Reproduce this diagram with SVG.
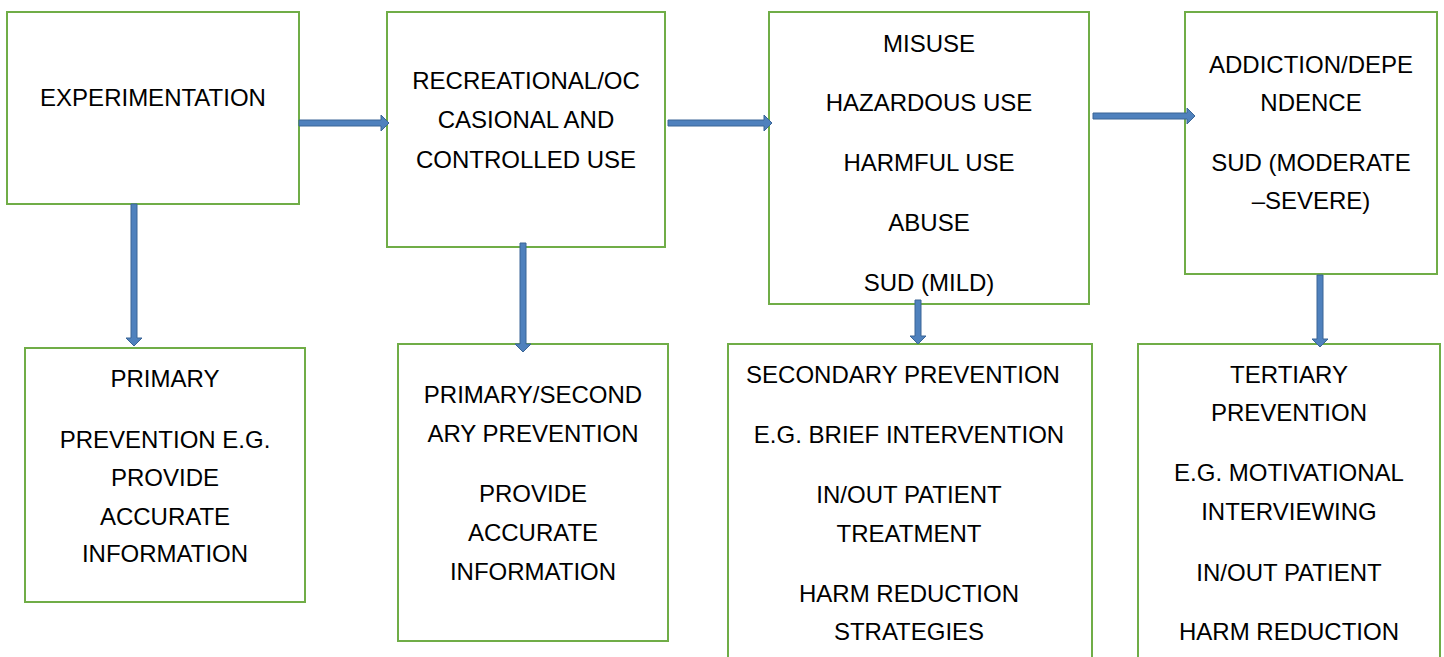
<svg xmlns="http://www.w3.org/2000/svg" width="1444" height="657" viewBox="0 0 1444 657">
<style>
.box{fill:#fff;stroke:#70ad47;stroke-width:2}
.t{font-family:"Liberation Sans","Open Sans",sans-serif;font-size:24px;fill:#000;text-anchor:middle}
.arr{fill:#4f81bd;stroke:#3a6596;stroke-width:1}
</style>
<rect width="1444" height="657" fill="#fff"/>
<g id="n1"><rect class="box" x="7" y="12" width="292" height="192"/>
<text class="t" x="153" y="106">EXPERIMENTATION</text></g>
<g id="n2"><rect class="box" x="387" y="12" width="278" height="235"/>
<text class="t" x="526" y="89">RECREATIONAL/OC</text>
<text class="t" x="526" y="128">CASIONAL AND</text>
<text class="t" x="526" y="168">CONTROLLED USE</text></g>
<g id="n3"><rect class="box" x="769" y="12" width="320" height="292"/>
<text class="t" x="929" y="52">MISUSE</text>
<text class="t" x="929" y="111">HAZARDOUS USE</text>
<text class="t" x="929" y="171">HARMFUL USE</text>
<text class="t" x="929" y="231">ABUSE</text>
<text class="t" x="929" y="291">SUD (MILD)</text></g>
<g id="n4"><rect class="box" x="1185" y="12" width="252" height="262"/>
<text class="t" x="1311" y="73">ADDICTION/DEPE</text>
<text class="t" x="1311" y="111">NDENCE</text>
<text class="t" x="1311" y="171">SUD (MODERATE</text>
<text class="t" x="1311" y="209">–SEVERE)</text></g>
<g id="n5"><rect class="box" x="25" y="348" width="280" height="254"/>
<text class="t" x="165" y="387">PRIMARY</text>
<text class="t" x="165" y="448">PREVENTION E.G.</text>
<text class="t" x="165" y="486">PROVIDE</text>
<text class="t" x="165" y="525">ACCURATE</text>
<text class="t" x="165" y="562">INFORMATION</text></g>
<g id="n6"><rect class="box" x="398" y="344" width="270" height="297"/>
<text class="t" x="533" y="403">PRIMARY/SECOND</text>
<text class="t" x="533" y="442">ARY PREVENTION</text>
<text class="t" x="533" y="502">PROVIDE</text>
<text class="t" x="533" y="541">ACCURATE</text>
<text class="t" x="533" y="580">INFORMATION</text></g>
<g id="n7"><rect class="box" x="728" y="344" width="364" height="330"/>
<text class="t" x="903" y="383">SECONDARY PREVENTION</text>
<text class="t" x="909" y="443">E.G. BRIEF INTERVENTION</text>
<text class="t" x="909" y="503">IN/OUT PATIENT</text>
<text class="t" x="909" y="542">TREATMENT</text>
<text class="t" x="909" y="602">HARM REDUCTION</text>
<text class="t" x="909" y="640">STRATEGIES</text></g>
<g id="n8"><rect class="box" x="1138" y="344" width="302" height="330"/>
<text class="t" x="1289" y="383">TERTIARY</text>
<text class="t" x="1289" y="421">PREVENTION</text>
<text class="t" x="1289" y="481">E.G. MOTIVATIONAL</text>
<text class="t" x="1289" y="520">INTERVIEWING</text>
<text class="t" x="1289" y="581">IN/OUT PATIENT</text>
<text class="t" x="1289" y="640">HARM REDUCTION</text></g>
<g id="connectors">
<path class="arr" d="M299,120 H381 V115 L389,123 L381,131 V126 H299 Z"/>
<path class="arr" d="M668,120 H764 V115 L772,123 L764,131 V126 H668 Z"/>
<path class="arr" d="M1093,113 H1187 V108 L1195,116 L1187,124 V119 H1093 Z"/>
<path class="arr" d="M131,204 V338 H126 L134,346 L142,338 H137 V204 Z"/>
<path class="arr" d="M520,243 V344 H515 L523,352 L531,344 H526 V243 Z"/>
<path class="arr" d="M915,300 V336 H910 L918,344 L926,336 H921 V300 Z"/>
<path class="arr" d="M1317,275 V339 H1312 L1320,347 L1328,339 H1323 V275 Z"/>
</g>
</svg>
